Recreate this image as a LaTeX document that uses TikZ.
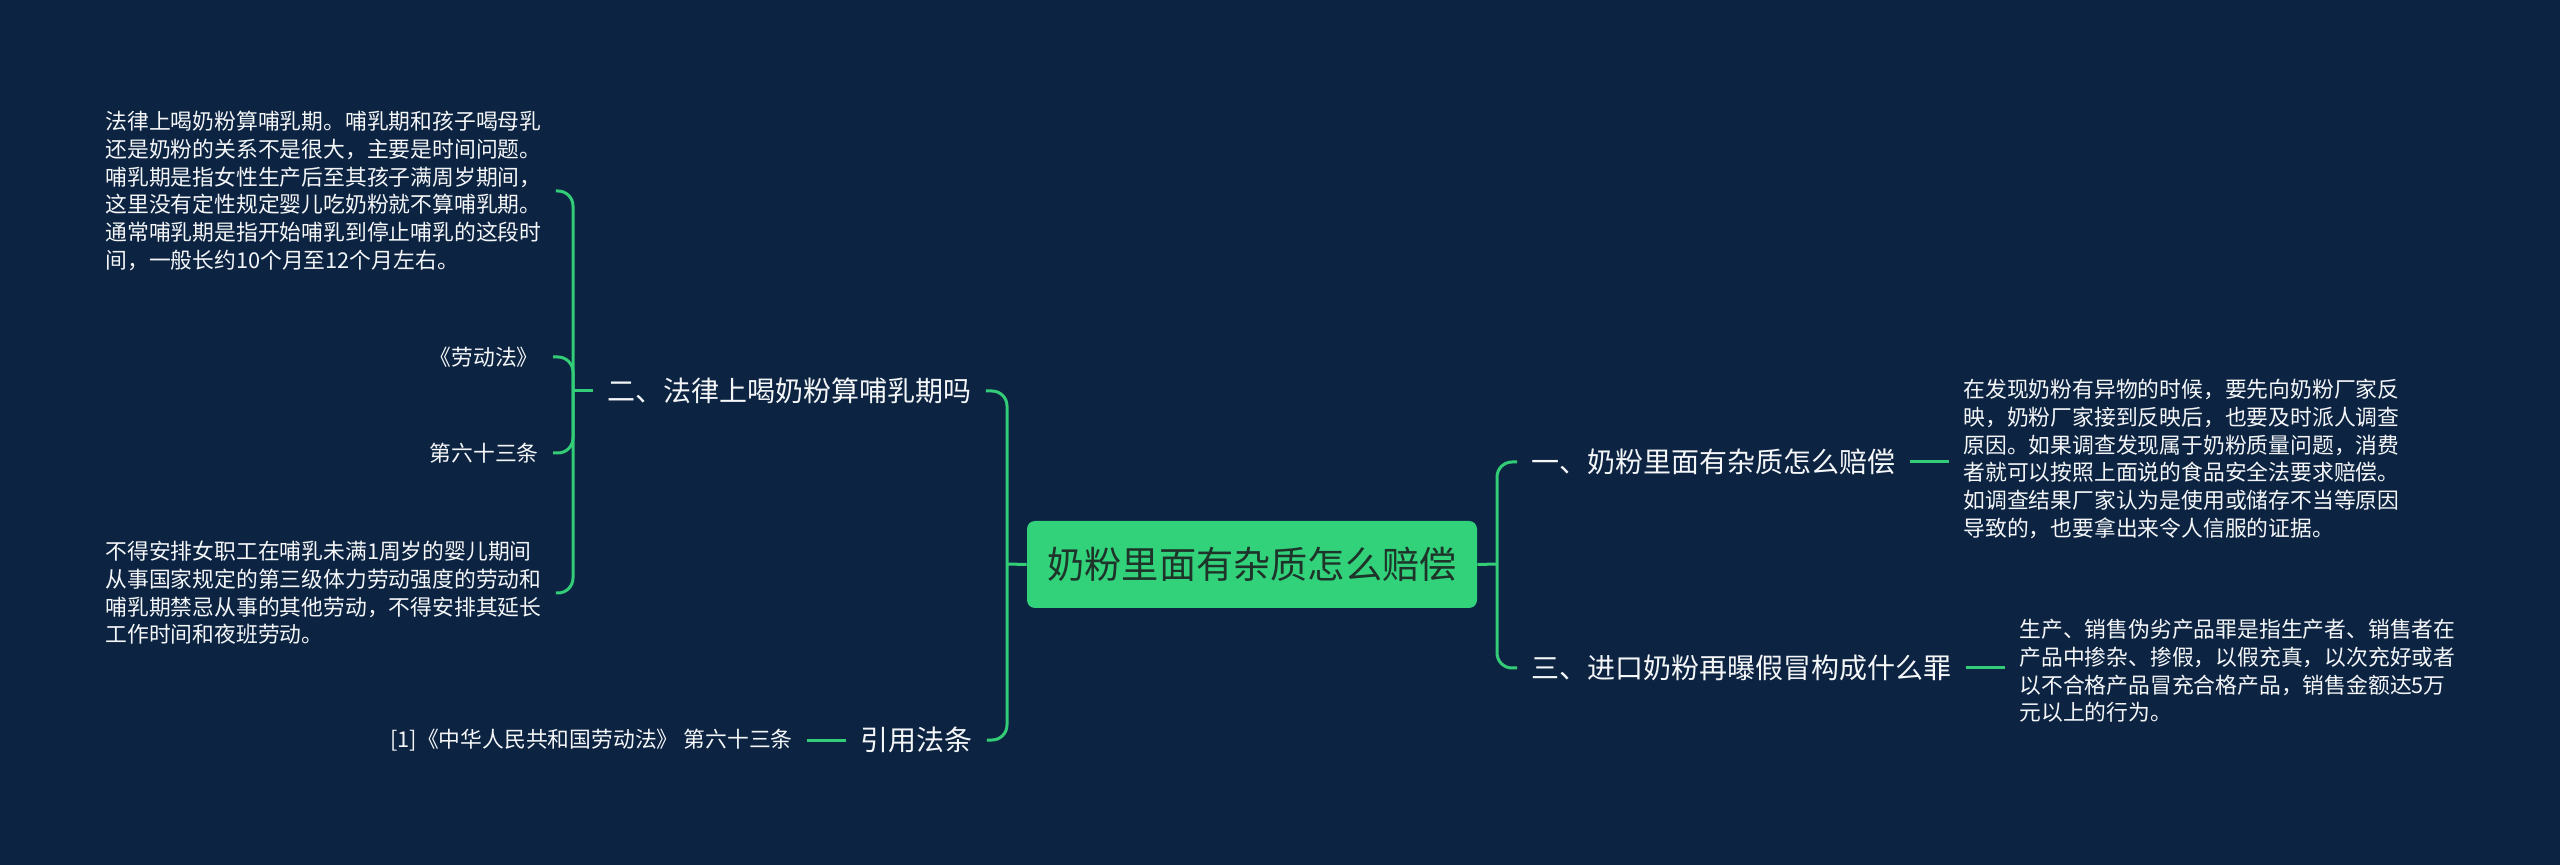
\documentclass[tikz,border=0pt]{standalone}
\usepackage{fontspec}
\newfontfamily\cjk{Noto Sans CJK SC}
\definecolor{bgnavy}{HTML}{0C2341}
\definecolor{linegreen}{HTML}{33CC77}
\definecolor{rootgreen}{HTML}{32D27B}
\definecolor{roottext}{HTML}{1E3329}
\definecolor{txt}{HTML}{F4F6F8}
\tikzset{
  conn/.style={draw=linegreen, line width=1.5pt, rounded corners=7.5pt},
  rootbox/.style={fill=rootgreen, draw=none, rounded corners=4pt, minimum width=225pt, minimum height=43.5pt, inner sep=0pt, text=roottext, font=\cjk\fontsize{18.6pt}{22pt}\selectfont},
  titlenode/.style={text=txt, font=\cjk\fontsize{14pt}{16pt}\selectfont, inner xsep=7pt, inner ysep=0pt},
  bodynode/.style={text=txt, font=\cjk\fontsize{10.9pt}{13.85pt}\selectfont, align=left, inner xsep=7pt, inner ysep=0pt},
}
\begin{document}
\begin{tikzpicture}[x=0.5pt,y=-0.5pt]
\useasboundingbox (0,0) rectangle (2560,865);
\fill[bgnavy] (0,0) rectangle (2560,865);

% root
\node[rootbox] (root) at (1252,564.5) {奶粉里面有杂质怎么赔偿};
\coordinate (LT) at (1007,564);
\coordinate (RT) at (1497,564);

% left branches
\node[titlenode, anchor=west] (t2) at (593,391) {二、法律上喝奶粉算哺乳期吗};
\node[titlenode, anchor=west] (cite) at (846,740) {引用法条};
\coordinate (ST) at (573,391);

\node[bodynode, anchor=west] (b2a) at (91,191) {法律上喝奶粉算哺乳期。哺乳期和孩子喝母乳\\还是奶粉的关系不是很大，主要是时间问题。\\哺乳期是指女性生产后至其孩子满周岁期间，\\这里没有定性规定婴儿吃奶粉就不算哺乳期。\\通常哺乳期是指开始哺乳到停止哺乳的这段时\\间，一般长约10个月至12个月左右。};
\node[bodynode, anchor=east] (b2b) at (553,357) {《劳动法》};
\node[bodynode, anchor=east] (b2c) at (553,453) {第六十三条};
\node[bodynode, anchor=west] (b2d) at (91,593) {不得安排女职工在哺乳未满1周岁的婴儿期间\\从事国家规定的第三级体力劳动强度的劳动和\\哺乳期禁忌从事的其他劳动，不得安排其延长\\工作时间和夜班劳动。};
\node[bodynode, anchor=east] (citec) at (807,740) {[1]《中华人民共和国劳动法》 第六十三条};

% right branches
\node[titlenode, anchor=west] (t1) at (1517,462) {一、奶粉里面有杂质怎么赔偿};
\node[titlenode, anchor=west] (t3) at (1517,668) {三、进口奶粉再曝假冒构成什么罪};
\node[bodynode, anchor=west] (b1) at (1949,459) {在发现奶粉有异物的时候，要先向奶粉厂家反\\映，奶粉厂家接到反映后，也要及时派人调查\\原因。如果调查发现属于奶粉质量问题，消费\\者就可以按照上面说的食品安全法要求赔偿。\\如调查结果厂家认为是使用或储存不当等原因\\导致的，也要拿出来令人信服的证据。};
\node[bodynode, anchor=west] (b3) at (2005,671) {生产、销售伪劣产品罪是指生产者、销售者在\\产品中掺杂、掺假，以假充真，以次充好或者\\以不合格产品冒充合格产品，销售金额达5万\\元以上的行为。};

% connectors left
\draw[conn] (root.west) -- (LT);
\draw[conn] (LT) |- (t2.east);
\draw[conn] (LT) |- (cite.east);
\draw[conn] (t2.west) -- (ST);
\draw[conn] (ST) |- (b2a.east);
\draw[conn] (ST) |- (b2b.east);
\draw[conn] (ST) |- (b2c.east);
\draw[conn] (ST) |- (b2d.east);
\draw[conn] (cite.west) -- (citec.east);

% connectors right
\draw[conn] (root.east) -- (RT);
\draw[conn] (RT) |- (t1.west);
\draw[conn] (RT) |- (t3.west);
\draw[conn] (t1.east) -- (t1.east -| b1.west);
\draw[conn] (t3.east) -- (t3.east -| b3.west);
\end{tikzpicture}
\end{document}
